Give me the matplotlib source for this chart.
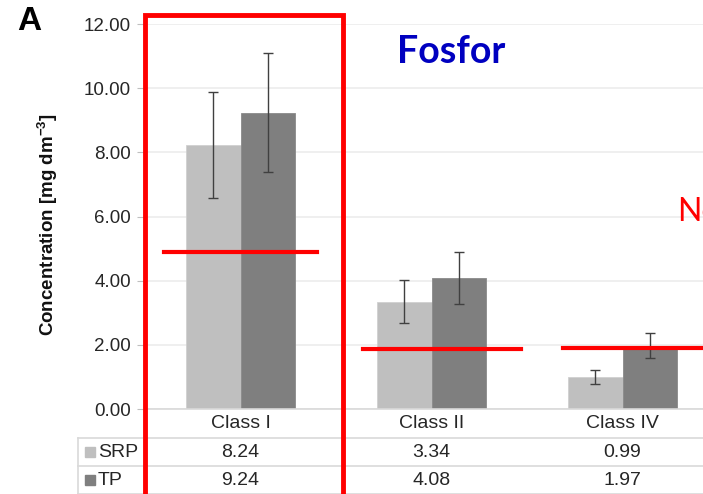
import matplotlib
matplotlib.use('Agg')
import matplotlib.pyplot as plt
from matplotlib.patches import Rectangle
import numpy as np

plt.rcParams['font.family'] = ['Liberation Sans', 'DejaVu Sans']
plt.rcParams['mathtext.fontset'] = 'custom'
plt.rcParams['mathtext.rm'] = 'Liberation Sans'
plt.rcParams['mathtext.bf'] = 'Liberation Sans:bold'

classes = ['Class I', 'Class II', 'Class IV']
srp = [8.24, 3.34, 0.99]
tp = [9.24, 4.08, 1.97]
srp_err = [1.65, 0.67, 0.22]
tp_err = [1.85, 0.81, 0.39]
# red threshold lines: value and x-extent (category units)
limit_vals = [4.9, 1.87, 1.9]
limit_x0 = [-0.40, 0.64, 1.69]
limit_x1 = [0.40, 1.47, 2.6]
yticks = [0, 2, 4, 6, 8, 10, 12]

W, H = 703, 494
fig = plt.figure(figsize=(W / 100, H / 100), dpi=100)
ax = fig.add_axes([145 / W, (H - 409) / H, 573 / W, (409 - 24) / H])

x = np.arange(len(classes))
bw = 0.285
c_srp, c_tp = '#bfbfbf', '#7f7f7f'
ax.bar(x - bw / 2, srp, bw, color=c_srp, edgecolor='#d0d0d0', linewidth=0.6, zorder=2)
ax.bar(x + bw / 2, tp, bw, color=c_tp, edgecolor='#8a8a8a', linewidth=0.6, zorder=2)
ax.errorbar(x - bw / 2, srp, yerr=srp_err, fmt='none', ecolor='#404040',
            elinewidth=1, capsize=3.6, capthick=1, zorder=3)
ax.errorbar(x + bw / 2, tp, yerr=tp_err, fmt='none', ecolor='#404040',
            elinewidth=1, capsize=3.6, capthick=1, zorder=3)

for v, a, b in zip(limit_vals, limit_x0, limit_x1):
    ax.plot([a, b], [v, v], color='#ff0000', lw=3, zorder=4, clip_on=False)

ax.set_xlim(-0.5, 2.5)
ax.set_ylim(0, 12)
ax.set_yticks(yticks)
ax.set_yticklabels([f'{t:.2f}' for t in yticks], fontsize=13.5, color='#262626')
ax.tick_params(axis='y', length=6, color='#bfbfbf', pad=4)
ax.set_xticks([])
ax.yaxis.grid(True, color='#ececec', lw=1.2, zorder=0)
ax.set_axisbelow(True)
for s in ['top', 'right']:
    ax.spines[s].set_visible(False)
ax.spines['left'].set_color('#d9d9d9')
ax.spines['bottom'].set_color('#d9d9d9')
ax.spines['bottom'].set_linewidth(1.2)

ax.set_ylabel(r'Concentration [mg dm$^{\mathbf{-3}}$]', fontsize=13.5,
              fontweight='bold', color='#111111')
ax.yaxis.set_label_coords(-0.148, 0.48)

# data table under the axis
def fy(py):
    return (H - py) / H
ftr = fig.transFigure
for py in [438, 466, 494]:
    fig.add_artist(plt.Line2D([78 / W, 1], [fy(py), fy(py)], color='#d9d9d9', lw=1.2))
fig.add_artist(plt.Line2D([78 / W, 78 / W], [fy(438), 0], color='#d9d9d9', lw=1.2))

for i, c in enumerate(classes):
    cx = ax.transData.transform((i, 0))[0] / W
    fig.text(cx, fy(423), c, ha='center', va='center', fontsize=14, color='#262626')
    fig.text(cx, fy(452), f'{srp[i]:.2f}', ha='center', va='center', fontsize=14,
             color='#262626')
    fig.text(cx, fy(480), f'{tp[i]:.2f}', ha='center', va='center', fontsize=14,
             color='#262626')

for name, col, py in [('SRP', c_srp, 452), ('TP', c_tp, 480)]:
    fig.add_artist(Rectangle((85 / W, fy(py + 5)), 10 / W, 10 / H, transform=ftr,
                             color=col))
    fig.text(98 / W, fy(py), name, ha='left', va='center', fontsize=14, color='#262626')

# red frame around Class I
fig.add_artist(Rectangle((145 / W, -0.05), 198 / W, fy(15) + 0.05, transform=ftr,
                         fill=False, edgecolor='#ff0000', lw=3.5, zorder=10))

fig.text(17 / W, fy(21), 'A', fontsize=24, fontweight='bold', ha='left', va='center')
fig.text(397 / W, fy(52), 'Fosfor', fontsize=27, fontweight='bold', color='#0000c0',
         family=['Lato', 'DejaVu Sans'], ha='left', va='center')
fig.text(677 / W, fy(212), 'Norma', fontsize=23, color='#ff0000',
         family=['Lato', 'DejaVu Sans'], ha='left', va='center')

fig.savefig('out.png', dpi=100)
